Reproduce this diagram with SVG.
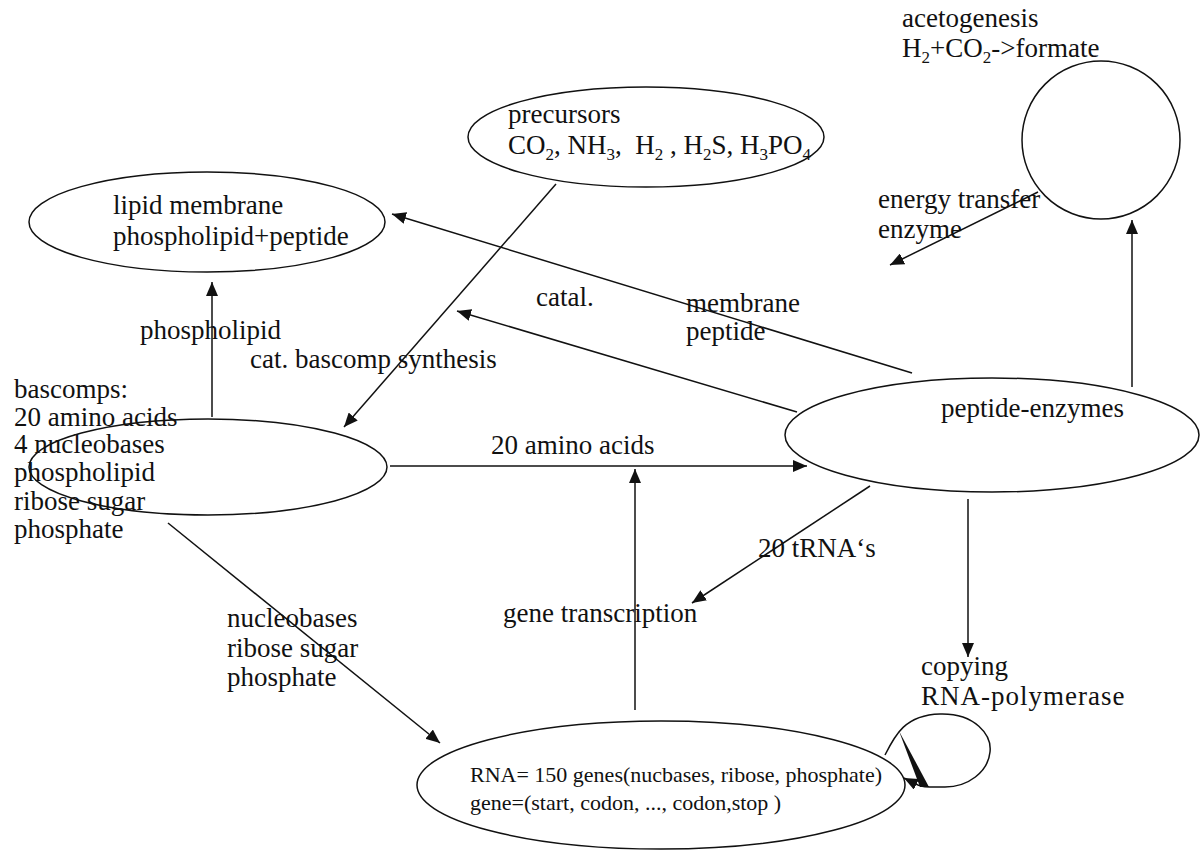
<svg xmlns="http://www.w3.org/2000/svg" width="1200" height="850" viewBox="0 0 1200 850">
<style>
.t{font-family:"Liberation Serif","Times New Roman",serif;font-size:27px;fill:#111;white-space:pre}
.s{font-family:"Liberation Serif","Times New Roman",serif;font-size:22px;fill:#111;white-space:pre}
.n{fill:none;stroke:#111;stroke-width:1.5}
.c{fill:none;stroke:#111;stroke-width:1.5}
</style>
<defs>
<marker id="ah" viewBox="0 0 14 12" markerWidth="14" markerHeight="12" refX="14" refY="6" orient="auto" markerUnits="userSpaceOnUse">
<path d="M0,0 L14,6 L0,12 z" fill="#111"/>
</marker>
</defs>
<rect width="1200" height="850" fill="#fff"/>

<g id="acetogenesis">
<circle class="n" cx="1101" cy="140" r="79"/>
<text class="t" x="902" y="27">acetogenesis</text>
<text class="t" x="902" y="57">H<tspan font-size="17" dy="6">2</tspan><tspan dy="-6">+CO</tspan><tspan font-size="17" dy="6">2</tspan><tspan dy="-6">-&gt;formate</tspan></text>
</g>

<g id="precursors">
<ellipse class="n" cx="646" cy="137" rx="178" ry="50"/>
<text class="t" x="508" y="123">precursors</text>
<text class="t" x="508" y="154">CO<tspan font-size="17" dy="6">2</tspan><tspan dy="-6">, NH</tspan><tspan font-size="17" dy="6">3</tspan><tspan dy="-6">,  H</tspan><tspan font-size="17" dy="6">2</tspan><tspan dy="-6"> , H</tspan><tspan font-size="17" dy="6">2</tspan><tspan dy="-6">S, H</tspan><tspan font-size="17" dy="6">3</tspan><tspan dy="-6">PO</tspan><tspan font-size="17" dy="6">4</tspan></text>
</g>

<g id="lipid-membrane">
<ellipse class="n" cx="207" cy="222" rx="178" ry="50"/>
<text class="t" x="113" y="214">lipid membrane</text>
<text class="t" x="113" y="245">phospholipid+peptide</text>
</g>

<g id="bascomps">
<ellipse class="n" cx="208" cy="467" rx="179" ry="48"/>
<text class="t" x="14" y="398">bascomps:</text>
<text class="t" x="14" y="426">20 amino acids</text>
<text class="t" x="14" y="453">4 nucleobases</text>
<text class="t" x="14" y="481">phospholipid</text>
<text class="t" x="14" y="510">ribose sugar</text>
<text class="t" x="14" y="538">phosphate</text>
</g>

<g id="peptide-enzymes">
<ellipse class="n" cx="992" cy="435" rx="207" ry="57"/>
<text class="t" x="941" y="417">peptide-enzymes</text>
</g>

<g id="rna">
<ellipse class="n" cx="661" cy="785" rx="244" ry="64"/>
<text class="s" x="470" y="782">RNA= 150 genes(nucbases, ribose, phosphate)</text>
<text class="s" x="470" y="810">gene=(start, codon, ..., codon,stop )</text>
</g>

<g id="connectors">
<line class="c" x1="556" y1="184" x2="344" y2="427" marker-end="url(#ah)"/>
<line class="c" x1="912" y1="373" x2="392" y2="214" marker-end="url(#ah)"/>
<line class="c" x1="797" y1="412" x2="457" y2="311" marker-end="url(#ah)"/>
<line class="c" x1="212" y1="417" x2="212" y2="282" marker-end="url(#ah)"/>
<line class="c" x1="390" y1="466" x2="807" y2="466" marker-end="url(#ah)"/>
<line class="c" x1="635" y1="710" x2="635" y2="469" marker-end="url(#ah)"/>
<line class="c" x1="870" y1="486" x2="692" y2="603" marker-end="url(#ah)"/>
<line class="c" x1="968" y1="499" x2="968" y2="657" marker-end="url(#ah)"/>
<line class="c" x1="1132" y1="387" x2="1132" y2="220" marker-end="url(#ah)"/>
<line class="c" x1="1038" y1="192" x2="890" y2="265" marker-end="url(#ah)"/>
<line class="c" x1="168" y1="523" x2="440" y2="743" marker-end="url(#ah)"/>
<path class="c" d="M885,755 C895,735 905,715 940,714 C975,713 992,735 990,752 C988,772 968,787 945,787 C935,787 925,788 918,785 L904,778" marker-end="url(#ah)"/>
<polygon points="899,731 920,787 929,787" fill="#111"/>
</g>

<g id="labels">
<text class="t" x="878" y="208">energy transfer</text>
<text class="t" x="878" y="238">enzyme</text>
<text class="t" x="536" y="306">catal.</text>
<text class="t" x="686" y="312">membrane</text>
<text class="t" x="686" y="340">peptide</text>
<text class="t" x="140" y="339">phospholipid</text>
<text class="t" x="250" y="368">cat. bascomp synthesis</text>
<text class="t" x="491" y="454">20 amino acids</text>
<text class="t" x="758" y="557">20 tRNA‘s</text>
<text class="t" x="503" y="622">gene transcription</text>
<text class="t" x="227" y="627">nucleobases</text>
<text class="t" x="227" y="657">ribose sugar</text>
<text class="t" x="227" y="686">phosphate</text>
<text class="t" x="921" y="675">copying</text>
<text class="t" x="921" y="705" letter-spacing="1">RNA-polymerase</text>
</g>
</svg>
